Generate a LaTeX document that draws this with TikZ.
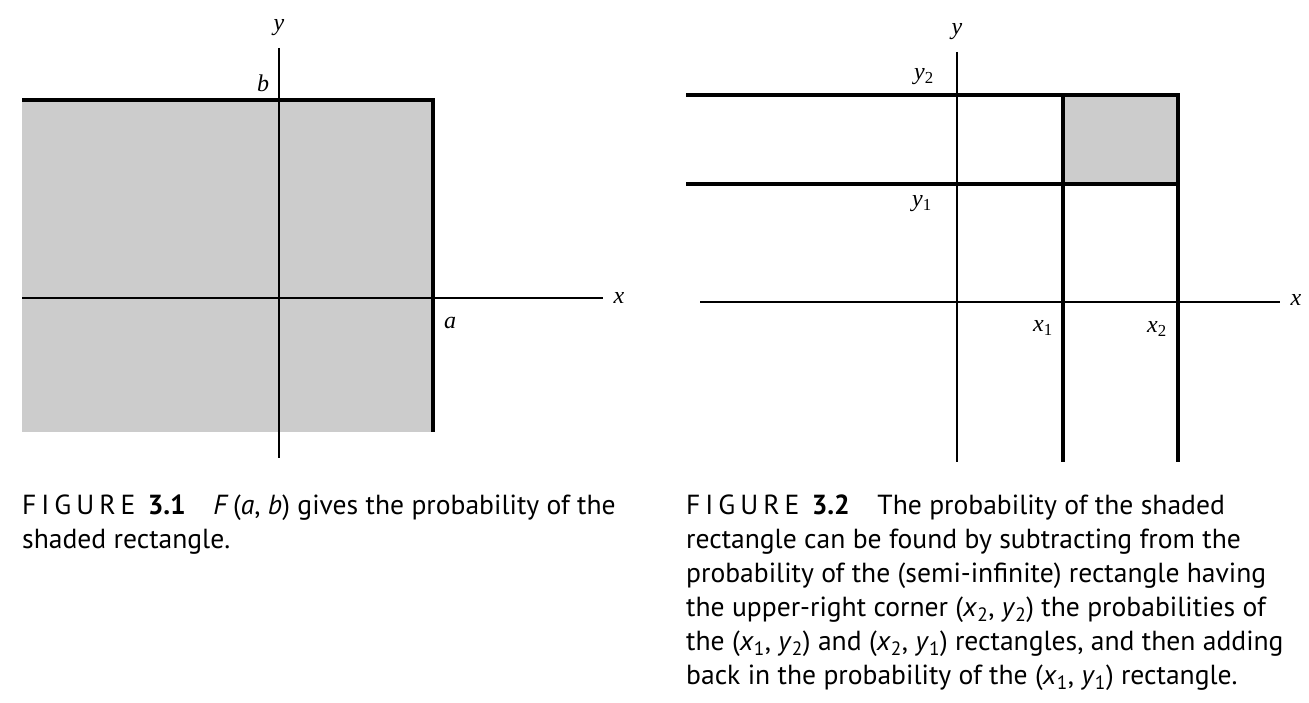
\documentclass[tikz,border=0pt]{standalone}
\usepackage{fontspec}
\newfontfamily\capfont{PT Sans}
\newfontfamily\labfont{Liberation Serif}
\newcommand{\figword}[1]{{\addfontfeature{LetterSpace=18}#1}}
\newcommand{\capvar}[2]{\textit{#1}\textsubscript{#2}}
\begin{document}
\begin{tikzpicture}[x=1pt,y=-1pt]
\tikzset{every node/.style={font=\labfont\itshape\fontsize{24}{28}\selectfont, inner sep=0pt},
  thickline/.style={line width=4pt},
  thinline/.style={line width=2pt},
  caption/.style={font=\capfont\fontsize{27.6}{34}\selectfont, align=left, anchor=base west}}
\useasboundingbox (0,0) rectangle (1309,703);

% Left figure
\fill[black!20] (22,100) rectangle (433,432);
\coordinate (Ly0) at (279,48);
\coordinate (Ly1) at (279,458);
\coordinate (Lx0) at (22,298);
\coordinate (Lx1) at (603,298);
\draw[thinline] (Ly0) -- (Ly1);
\draw[thinline] (Lx0) -- (Lx1);
\draw[thickline] (22,100) -- (433,100) -- (433,432);

\node at (279,28) (Ly) {y};
\node at (619,298) (Lx) {x};
\node at (263,83) (b) {b};
\node at (450,323) (a) {a};

% Right figure
\fill[black!20] (1063,95) rectangle (1178,184);
\coordinate (Ry0) at (957,52);
\coordinate (Ry1) at (957,462);
\coordinate (Rx0) at (700,302);
\coordinate (Rx1) at (1280,302);
\draw[thinline] (Ry0) -- (Ry1);
\draw[thinline] (Rx0) -- (Rx1);
\draw[thickline] (686,95) -- (1178,95) -- (1178,462);
\draw[thickline] (686,184) -- (1063,184);
\draw[thickline] (1063,95) -- (1063,462);
\draw[thickline] (1063,184) -- (1178,184);

\node at (957,32) (Ry) {y};
\node at (1296,300) (Rx) {x};
\node at (924,77) (y2) {y\textsubscript{\upshape 2}};
\node at (922,204) (y1) {y\textsubscript{\upshape 1}};
\node at (1043,328) (x1) {x\textsubscript{\upshape 1}};
\node at (1157,329) (x2) {x\textsubscript{\upshape 2}};

% Captions (base = last line)
\node[caption] at (22,548) (cap1) {\figword{FIGURE} \textbf{3.1}\quad \textit{F}\,(\textit{a}, \textit{b}) gives the probability of the\\
shaded rectangle.};
\node[caption] at (686,684) (cap2) {\figword{FIGURE} \textbf{3.2}\quad The probability of the shaded\\
rectangle can be found by subtracting from the\\
probability of the (semi-infinite) rectangle having\\
the upper-right corner (\capvar{x}{2}, \capvar{y}{2}) the probabilities of\\
the (\capvar{x}{1}, \capvar{y}{2}) and (\capvar{x}{2}, \capvar{y}{1}) rectangles, and then adding\\
back in the probability of the (\capvar{x}{1}, \capvar{y}{1}) rectangle.};
\end{tikzpicture}
\end{document}
